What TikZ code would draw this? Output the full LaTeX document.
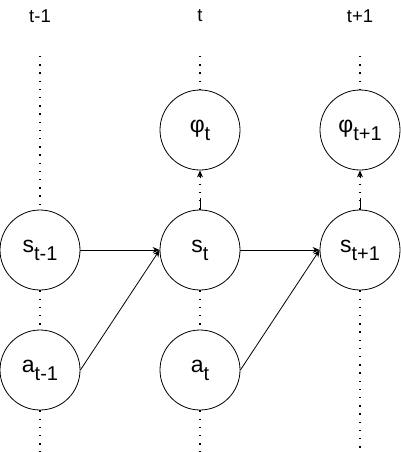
\documentclass[tikz,border=0pt]{standalone}
\usepackage{fontspec}
\setmainfont{Liberation Sans}
\usetikzlibrary{arrows.meta}
\newcommand{\lbl}[2]{{\fontsize{23}{27}\selectfont #1}\raisebox{-8pt}{\fontsize{20}{24}\selectfont #2}}
\tikzset{
  var/.style={circle, draw, line width=0.8pt, minimum size=80pt, inner sep=0pt, fill=white},
  timelbl/.style={font=\fontsize{18.5}{22}\selectfont, inner sep=0pt},
  dotline/.style={line width=1.3pt, dash pattern=on 1.3pt off 6.9pt, line cap=butt},
  arr/.style={line width=0.8pt, -{Stealth[length=7pt,width=6pt]}},
}
\begin{document}
\begin{tikzpicture}[x=1pt,y=-1pt]
\useasboundingbox (0,0) rectangle (401,452);
% time labels
\node[timelbl] (Ltm1) at (40,16) {t-1};
\node[timelbl] (Lt) at (200,16) {t};
\node[timelbl] (Ltp1) at (360,16) {t+1};
% nodes
\node[var] (phit) at (200,130) {\lbl{φ}{t}};
\node[var] (phitp1) at (360,130) {\lbl{φ}{t+1}};
\node[var] (stm1) at (40,250) {\lbl{s}{t-1}};
\node[var] (st) at (200,250) {\lbl{s}{t}};
\node[var] (stp1) at (360,250) {\lbl{s}{t+1}};
\node[var] (atm1) at (40,370) {\lbl{a}{t-1}};
\node[var] (at) at (200,370) {\lbl{a}{t}};
% dotted time lines
\coordinate (c1top) at (40,56);
\coordinate (c2top) at (200,56);
\coordinate (c3top) at (360,56);
\coordinate (c1bot) at (40,452);
\coordinate (c2bot) at (200,452);
\coordinate (c3bot) at (360,452);
\draw[dotline] (c1top) -- (stm1.north);
\draw[dotline] (stm1.south) -- (atm1.north);
\draw[dotline] (atm1.south) -- (c1bot);
\draw[dotline] (c2top) -- (phit.north);
\draw[dotline] (st.south) -- (at.north);
\draw[dotline] (at.south) -- (c2bot);
\draw[dotline] (c3top) -- (phitp1.north);
\draw[dotline] (stp1.south) -- (c3bot);
% emission arrows (dotted with solid start)
\draw[dotline] (st.north) -- (phit.south);
\draw[line width=0.8pt] (st.north) -- ++(0,-12);
\draw[arr] ([yshift=-8pt]phit.south) -- (phit.south);
\draw[dotline] (stp1.north) -- (phitp1.south);
\draw[line width=0.8pt] (stp1.north) -- ++(0,-12);
\draw[arr] ([yshift=-8pt]phitp1.south) -- (phitp1.south);
% transitions
\draw[arr] (stm1.east) -- (st.west);
\draw[arr] (atm1.east) -- (st.west);
\draw[arr] (st.east) -- (stp1.west);
\draw[arr] (at.east) -- (stp1.west);
\end{tikzpicture}
\end{document}
